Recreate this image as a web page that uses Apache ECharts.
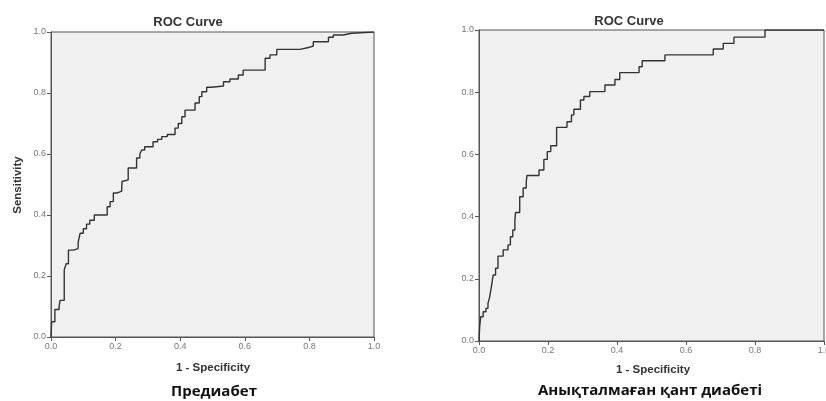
<!DOCTYPE html>
<html>
<head>
<meta charset="utf-8">
<script src="https://cdn.jsdelivr.net/npm/echarts@6/dist/echarts.min.js"></script>
<style>
  html, body { margin: 0; padding: 0; background: #fff; }
  #main { width: 826px; height: 401px; }
</style>
</head>
<body>
<div id="main"></div>
<script>
// ROC points: x = 1 - specificity, y = sensitivity (step at each rise)
var preFpr = [0, 0.002, 0.012, 0.025, 0.028, 0.041, 0.047, 0.054, 0.069, 0.084, 0.09, 0.10, 0.11, 0.12, 0.134,
  0.174, 0.183, 0.193, 0.204, 0.219, 0.22, 0.224, 0.239, 0.265, 0.275, 0.281, 0.29, 0.316, 0.33, 0.343, 0.36,
  0.384, 0.394, 0.405, 0.415, 0.446, 0.459, 0.467, 0.482, 0.497, 0.534, 0.554, 0.58, 0.595, 0.663, 0.678,
  0.699, 0.771, 0.797, 0.812, 0.859, 0.874, 0.905, 0.931, 1];
var preTpr = [0, 0.05, 0.09, 0.10, 0.12, 0.22, 0.24, 0.285, 0.29, 0.31, 0.34, 0.355, 0.37, 0.383, 0.40,
  0.427, 0.444, 0.472, 0.478, 0.49, 0.51, 0.515, 0.554, 0.587, 0.60, 0.613, 0.624, 0.64, 0.648, 0.657, 0.664,
  0.685, 0.70, 0.722, 0.744, 0.767, 0.788, 0.804, 0.819, 0.823, 0.837, 0.846, 0.859, 0.875, 0.914, 0.925,
  0.943, 0.949, 0.954, 0.968, 0.983, 0.99, 0.996, 1.0, 1.0];

var undFpr = [0, 0.002, 0.005, 0.012, 0.02, 0.026, 0.031, 0.036, 0.041, 0.048, 0.055, 0.070, 0.084, 0.091,
  0.098, 0.104, 0.106, 0.118, 0.128, 0.137, 0.139, 0.174, 0.188, 0.198, 0.208, 0.225, 0.255, 0.268, 0.275,
  0.294, 0.304, 0.321, 0.365, 0.394, 0.408, 0.464, 0.473, 0.539, 0.679, 0.708, 0.739, 0.829, 1];
var undTpr = [0, 0.046, 0.078, 0.094, 0.105, 0.121, 0.142, 0.175, 0.212, 0.234, 0.273, 0.293, 0.309, 0.335,
  0.357, 0.389, 0.413, 0.464, 0.492, 0.512, 0.532, 0.55, 0.584, 0.609, 0.628, 0.687, 0.705, 0.727, 0.745,
  0.775, 0.786, 0.802, 0.823, 0.841, 0.863, 0.882, 0.901, 0.92, 0.939, 0.957, 0.977, 1.0, 1.0];

var tickValues = [0, 0.2, 0.4, 0.6, 0.8, 1.0];
var panelTitle = 'ROC Curve';
var xName = '1 - Specificity';
var yName = 'Sensitivity';
var captions = ['Предиабет', 'Анықталмаған қант диабеті'];

function pairs(xs, ys) {
  return xs.map(function (x, i) { return [x, ys[i]]; });
}

function axis(gridIndex) {
  return {
    type: 'value',
    gridIndex: gridIndex,
    min: tickValues[0],
    max: tickValues[tickValues.length - 1],
    interval: 0.2,
    axisLine: { show: true, lineStyle: { color: '#555', width: 1 } },
    axisTick: { show: true, length: 4, lineStyle: { color: '#555' } },
    axisLabel: {
      color: '#777', fontSize: 9, fontFamily: 'Liberation Sans', margin: 5,
      formatter: function (v) { return v.toFixed(1); }
    },
    splitLine: { show: false }
  };
}

var chart = echarts.init(document.getElementById('main'), null, { renderer: 'canvas' });

var gridStyle = {
  show: true, backgroundColor: '#f0f0f0', borderColor: '#555', borderWidth: 1,
  containLabel: false, outerBoundsMode: 'none'
};

var options = {
  animation: false,
  grid: [
    Object.assign({ left: 51, top: 32, width: 323, height: 305 }, gridStyle),
    Object.assign({ left: 479, top: 30, width: 345, height: 311 }, gridStyle)
  ],
  xAxis: [axis(0), axis(1)],
  yAxis: [axis(0), axis(1)],
  series: [
    {
      type: 'line', xAxisIndex: 0, yAxisIndex: 0, step: 'end', showSymbol: false,
      lineStyle: { color: '#333', width: 1.4 },
      data: pairs(preFpr, preTpr)
    },
    {
      type: 'line', xAxisIndex: 1, yAxisIndex: 1, step: 'end', showSymbol: false,
      lineStyle: { color: '#333', width: 1.4 },
      data: pairs(undFpr, undTpr)
    }
  ],
  graphic: [
    { type: 'text', x: 188, y: 22, style: { text: panelTitle, fill: '#333', font: 'bold 13px "Liberation Sans"', textAlign: 'center', textVerticalAlign: 'middle' } },
    { type: 'text', x: 629, y: 21, style: { text: panelTitle, fill: '#333', font: 'bold 13px "Liberation Sans"', textAlign: 'center', textVerticalAlign: 'middle' } },
    { type: 'text', x: 213, y: 368, style: { text: xName, fill: '#333', font: 'bold 11.5px "Liberation Sans"', textAlign: 'center', textVerticalAlign: 'middle' } },
    { type: 'text', x: 653, y: 370, style: { text: xName, fill: '#333', font: 'bold 11.5px "Liberation Sans"', textAlign: 'center', textVerticalAlign: 'middle' } },
    { type: 'text', x: 18, y: 185, rotation: Math.PI / 2, style: { text: yName, fill: '#333', font: 'bold 11.5px "Liberation Sans"', textAlign: 'center', textVerticalAlign: 'middle' } },
    { type: 'text', x: 214, y: 392, style: { text: captions[0], fill: '#111', font: 'bold 15px "Open Sans"', textAlign: 'center', textVerticalAlign: 'middle' } },
    { type: 'text', x: 650, y: 391, style: { text: captions[1], fill: '#111', font: 'bold 15px "Open Sans"', textAlign: 'center', textVerticalAlign: 'middle' } }
  ]
};

chart.setOption(options);
</script>
</body>
</html>
